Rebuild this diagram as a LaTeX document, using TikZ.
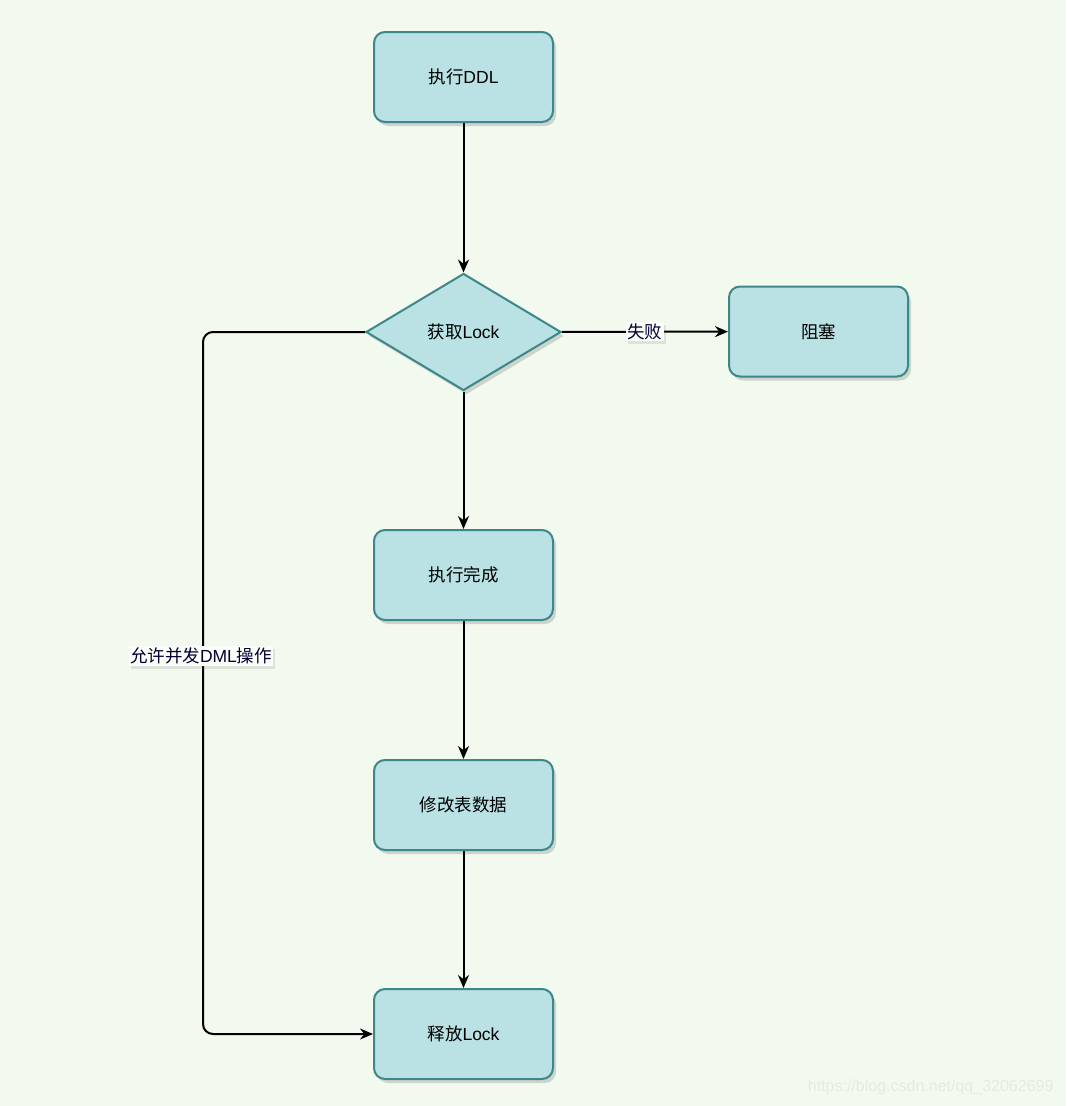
\documentclass[tikz,border=0pt]{standalone}
\usepackage{fontspec}
\setmainfont{Liberation Sans}
\newfontfamily\cjk{Noto Sans CJK SC}
\usetikzlibrary{shapes.geometric,shadows,arrows.meta}
\definecolor{bgc}{HTML}{F2F9EE}
\definecolor{boxfill}{HTML}{BAE1E3}
\definecolor{boxline}{HTML}{3D8789}
\definecolor{wmc}{HTML}{E4EBE1}
\newcommand{\zh}[1]{{\cjk #1}}
\tikzset{
  box/.style={draw=boxline, fill=boxfill, line width=2pt, rounded corners=11pt,
    minimum width=179pt, minimum height=90pt, inner sep=0pt,
    font=\fontsize{17.5}{20}\selectfont,
    drop shadow={shadow xshift=3pt, shadow yshift=-4pt, opacity=0.25, fill=black!60}},
  dec/.style={draw=boxline, fill=boxfill, line width=2pt, diamond, aspect=1.667,
    minimum width=195pt, minimum height=117pt, inner sep=0pt,
    font=\fontsize{17.5}{20}\selectfont,
    drop shadow={shadow xshift=3pt, shadow yshift=-4pt, opacity=0.25, fill=black!60}},
  conn/.style={draw=black, line width=2pt, -{Stealth[length=13pt,width=11pt]}},
  lab/.style={fill=white!60!bgc, inner sep=1.5pt, font=\fontsize{17.5}{20}\selectfont, text=black!80!blue,
    drop shadow={shadow xshift=2pt, shadow yshift=-3pt, opacity=0.15, fill=black!60}}
}
\begin{document}
\begin{tikzpicture}[x=1pt,y=-1pt]
\fill[bgc] (0,0) rectangle (1066,1106);
\useasboundingbox (0,0) rectangle (1066,1106);
\node[box] (ddl) at (463.5,77) {\zh{执行}DDL};
\node[dec] (lock) at (463.5,332) {\zh{获取}Lock};
\node[box] (block) at (818.5,331.5) {\zh{阻塞}};
\node[box] (done) at (463.5,575) {\zh{执行完成}};
\node[box] (mod) at (463.5,805) {\zh{修改表数据}};
\node[box] (rel) at (463.5,1034) {\zh{释放}Lock};
\coordinate (c1) at (203,332);
\coordinate (c2) at (203,1034);
\draw[conn] (ddl) -- (lock);
\draw[conn] (lock) -- node[lab] {\zh{失败}} (block);
\draw[conn] (lock) -- (done);
\draw[conn] (done) -- (mod);
\draw[conn] (mod) -- (rel);
\draw[conn, rounded corners=10pt] (lock.west) -- (c1) -- (c2) -- (rel.west);
\node[lab] (allow) at (201,656) {\zh{允许并发}DML\zh{操作}};
\node[text=wmc, font=\fontsize{16}{18}\selectfont, anchor=east] (wm) at (1057,1087) {https://blog.csdn.net/qq\_32062699};
\end{tikzpicture}
\end{document}
